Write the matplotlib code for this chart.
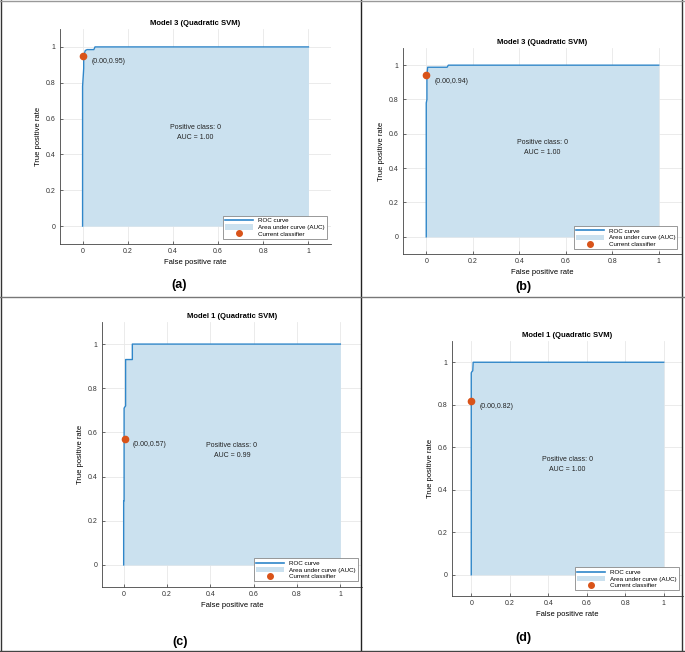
import matplotlib
matplotlib.use("Agg")
import matplotlib.pyplot as plt
from matplotlib.lines import Line2D
from matplotlib.patches import Patch

plt.rcParams["font.family"] = ["Liberation Sans", "DejaVu Sans"]

W, H = 685, 652

# ROC curves
fpr_a = [0, 0, 0.005, 0.005, 0.012, 0.02, 0.05, 0.055, 1]
tpr_a = [0, 0.78, 0.88, 0.95, 0.98, 0.985, 0.985, 1.0, 1.0]
fpr_b = [0, 0, 0.003, 0.003, 0.006, 0.09, 0.095, 1]
tpr_b = [0, 0.78, 0.80, 0.94, 0.988, 0.988, 1.0, 1.0]
fpr_c = [0, 0, 0.002, 0.002, 0.009, 0.009, 0.04, 0.04, 1]
tpr_c = [0, 0.29, 0.29, 0.71, 0.72, 0.93, 0.93, 1.0, 1.0]
fpr_d = [0, 0, 0.003, 0.008, 0.01, 1]
tpr_d = [0, 0.95, 0.955, 0.96, 1.0, 1.0]

titles = ["Model 3 (Quadratic SVM)", "Model 3 (Quadratic SVM)",
          "Model 1 (Quadratic SVM)", "Model 1 (Quadratic SVM)"]
auc_values = [1.00, 1.00, 0.99, 1.00]
op_fpr = [0.004, 0.0, 0.004, 0.0]
op_tpr = [0.95, 0.94, 0.57, 0.82]
op_labels = ["(0.00,0.95)", "(0.00,0.94)", "(0.00,0.57)", "(0.00,0.82)"]
panel_labels = ["(a)", "(b)", "(c)", "(d)"]

curves = [(fpr_a, tpr_a), (fpr_b, tpr_b), (fpr_c, tpr_c), (fpr_d, tpr_d)]

# axes boxes in pixels: left, top, right, bottom
boxes = [(60, 29, 331, 244), (403, 48, 682, 254),
         (102, 322, 362, 587), (452, 341, 683, 596)]
label_pos = [(179, 285), (523, 287), (180, 642), (523, 638)]

LINE = "#2f86c9"
FILL = "#cbe1ef"
ORANGE = "#d95319"

fig = plt.figure(figsize=(W / 100, H / 100), dpi=100)


def px(x, y):
    return x / W, 1 - y / H


for i, (fpr, tpr) in enumerate(curves):
    l, t, r, b = boxes[i]
    ax = fig.add_axes([l / W, 1 - b / H, (r - l) / W, (b - t) / H])
    ax.fill_between(fpr, tpr, 0, step=None, color=FILL, linewidth=0, zorder=1)
    ax.plot(fpr, tpr, color=LINE, lw=1.0, zorder=3)
    ax.plot(op_fpr[i], op_tpr[i], "o", color=ORANGE, ms=4.5, zorder=4)
    ax.annotate(op_labels[i], (op_fpr[i], op_tpr[i]), xytext=(6, -4),
                textcoords="offset points", fontsize=5, va="center", color="#222222")
    ax.text(0.5, 0.52, f"Positive class: 0\nAUC = {auc_values[i]:.2f}",
            ha="center", va="center", fontsize=5, color="#222222",
            linespacing=1.6)

    ax.set_xlim(-0.1, 1.1)
    ax.set_ylim(-0.1, 1.1)
    ticks = [0, 0.2, 0.4, 0.6, 0.8, 1]
    ax.set_xticks(ticks)
    ax.set_yticks(ticks)
    ax.set_xticklabels(["0", "0.2", "0.4", "0.6", "0.8", "1"])
    ax.set_yticklabels(["0", "0.2", "0.4", "0.6", "0.8", "1"])
    ax.tick_params(labelsize=5, length=2, width=0.5, direction="in",
                   colors="#333333", pad=3)
    ax.grid(True, color="#e8e8e8", lw=0.6)
    ax.set_axisbelow(True)
    for side in ["top", "right"]:
        ax.spines[side].set_visible(False)
    for side in ["left", "bottom"]:
        ax.spines[side].set_color("#444444")
        ax.spines[side].set_linewidth(0.6)

    ax.set_title(titles[i], fontsize=5.5, fontweight="bold", pad=3)
    ax.set_xlabel("False positive rate", fontsize=5.5, labelpad=3)
    ax.set_ylabel("True positive rate", fontsize=5.5, labelpad=3)

    handles = [Line2D([], [], color=LINE, lw=1.2),
               Patch(facecolor=FILL, edgecolor="none"),
               Line2D([], [], color=ORANGE, marker="o", ls="none", ms=4)]
    leg = ax.legend(handles, ["ROC curve", "Area under curve (AUC)", "Current classifier"],
                    loc="lower right", fontsize=4.5, handlelength=4.5,
                    handleheight=0.9, labelspacing=0.15, borderpad=0.3,
                    handletextpad=0.8, fancybox=False, framealpha=1,
                    bbox_to_anchor=(0.995, 0.01))
    leg.get_frame().set_edgecolor("#888888")
    leg.get_frame().set_linewidth(0.6)

    lx, ly = label_pos[i]
    fig.text(*px(lx, ly), panel_labels[i], ha="center", va="center",
             fontsize=9, fontweight="bold")

# panel frames
frame = dict(transform=fig.transFigure, lw=1.0)
fig.add_artist(Line2D([1 / W, 1 / W], [0, 1], color="#333333", **frame))
fig.add_artist(Line2D([682 / W, 682 / W], [0, 1], color="#333333", **frame))
fig.add_artist(Line2D([361 / W, 361 / W], [0, 1], color="#222222", **frame))
fig.add_artist(Line2D([0, 1], [1 - 1 / H, 1 - 1 / H], color="#999999", **frame))
fig.add_artist(Line2D([0, 1], [1 - 297 / H, 1 - 297 / H], color="#777777", **frame))
fig.add_artist(Line2D([0, 1], [1 - 651 / H, 1 - 651 / H], color="#444444", **frame))

fig.savefig("out.png", dpi=100)
